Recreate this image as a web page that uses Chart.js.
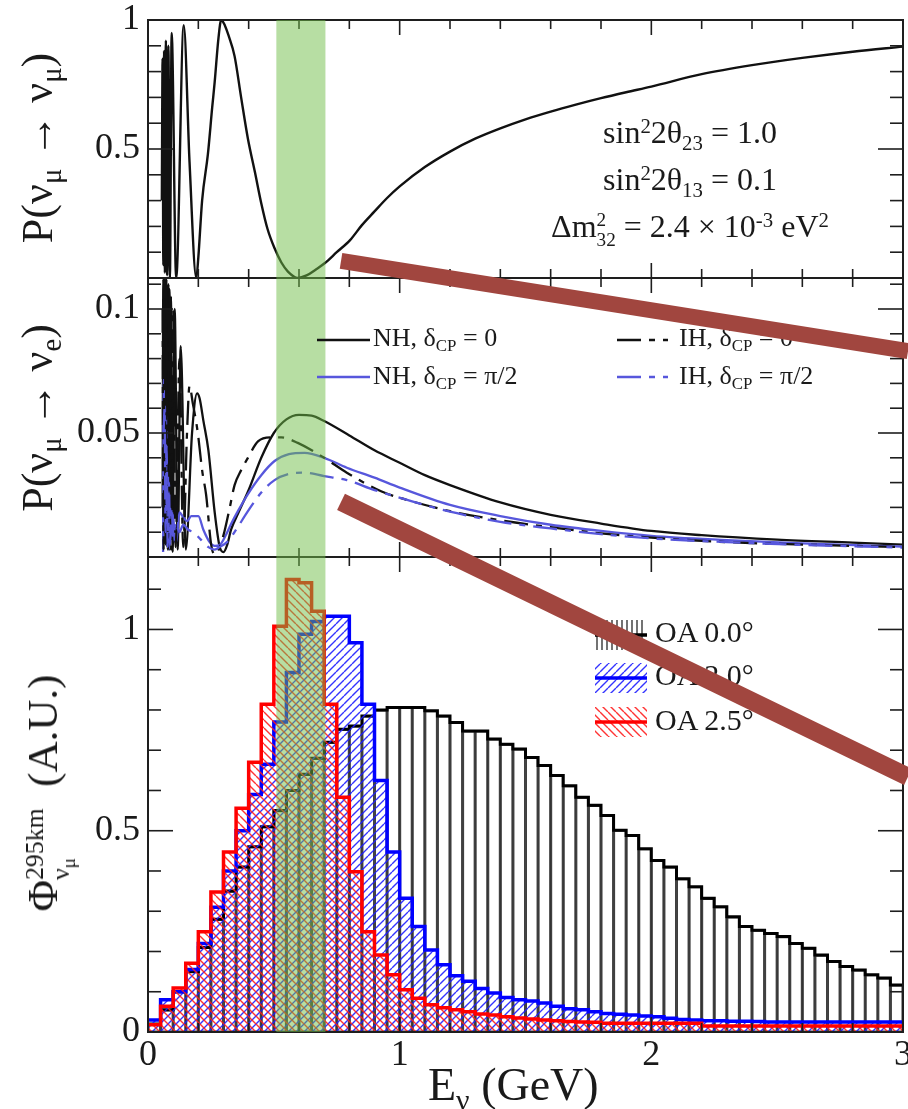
<!DOCTYPE html>
<html><head><meta charset="utf-8">
<script src="https://cdn.jsdelivr.net/npm/chart.js@4/dist/chart.umd.min.js"></script>
<style>
html,body{margin:0;padding:0;background:#fff}
#wrap{position:relative;width:908px;height:1109px;overflow:hidden;font-family:'Liberation Serif','Times New Roman',serif;color:#1a1a1a}
canvas{position:absolute;left:0;top:0}
#ov{z-index:5;pointer-events:none}
.t{position:absolute;white-space:nowrap;line-height:1;z-index:3}
.t sub,.t sup{font-size:65%;line-height:0;vertical-align:baseline;position:relative}
.t sub{top:0.32em}
.t sup{top:-0.5em}
.ss{display:inline-block;font-size:60%;line-height:1;vertical-align:-0.45em;text-align:left}
.ss sub{font-size:75%}
.rot{transform-origin:0 0;transform:rotate(-90deg) translateX(-50%)}
.ctr{transform:translateX(-50%)}
</style></head><body>
<div id="wrap">
<canvas id="c" width="908" height="1109"></canvas>
<canvas id="ov" width="908" height="1109"></canvas>

<div class="t ctr" style="left:690px;top:116px;font-size:32px">sin<sup>2</sup>2θ<sub>23</sub> = 1.0</div>
<div class="t ctr" style="left:690px;top:163px;font-size:32px">sin<sup>2</sup>2θ<sub>13</sub> = 0.1</div>
<div class="t ctr" style="left:690px;top:210px;font-size:32px">Δm<span class="ss">2<br>32</span> = 2.4 × 10<sup>-3</sup> eV<sup>2</sup></div>

<div class="t" style="left:373px;top:325px;font-size:26px">NH, δ<sub>CP</sub> = 0</div>
<div class="t" style="left:373px;top:363px;font-size:26px">NH, δ<sub>CP</sub> = π/2</div>
<div class="t" style="left:679px;top:325px;font-size:26px">IH, δ<sub>CP</sub> = 0</div>
<div class="t" style="left:679px;top:363px;font-size:26px">IH, δ<sub>CP</sub> = π/2</div>

<div class="t" style="left:655px;top:617px;font-size:30px">OA 0.0°</div>
<div class="t" style="left:655px;top:660px;font-size:30px">OA 2.0°</div>
<div class="t" style="left:655px;top:705px;font-size:30px">OA 2.5°</div>

<div class="t rot" style="left:16px;top:148px;font-size:44px">P(ν<sub>μ</sub> → ν<sub>μ</sub>)</div>
<div class="t rot" style="left:16px;top:418px;font-size:44px">P(ν<sub>μ</sub> → ν<sub>e</sub>)</div>
<div class="t rot" style="left:21px;top:793px;font-size:43px">Φ<span class="ss">295km<br>ν<sub>μ</sub></span>&nbsp;&nbsp;(A.U.)</div>
<div class="t" style="left:428px;top:1062px;font-size:46px">E<sub>ν</sub> (GeV)</div>
</div>

<script>
// ---------------- DATA ----------------
const energyEdges = [0,0.05,0.1,0.15,0.2,0.25,0.3,0.35,0.4,0.45,0.5,0.55,0.6,0.65,0.7,0.75,0.8,0.85,0.9,0.95,
  1,1.05,1.1,1.15,1.2,1.25,1.3,1.35,1.4,1.45,1.5,1.55,1.6,1.65,1.7,1.75,1.8,1.85,1.9,1.95,
  2,2.05,2.1,2.15,2.2,2.25,2.3,2.35,2.4,2.45,2.5,2.55,2.6,2.65,2.7,2.75,2.8,2.85,2.9,2.95,3];

const fluxOA00 = [0.02,0.055,0.10,0.15,0.21,0.28,0.35,0.41,0.46,0.51,0.55,0.60,0.64,0.68,0.72,0.752,0.76,0.785,0.80,0.806,
  0.806,0.806,0.798,0.785,0.769,0.748,0.748,0.728,0.715,0.703,0.682,0.662,0.637,0.612,0.583,0.563,0.538,0.501,0.488,0.455,
  0.426,0.41,0.381,0.361,0.332,0.311,0.286,0.262,0.253,0.245,0.237,0.22,0.208,0.191,0.175,0.163,0.154,0.142,0.134,0.117];
const fluxOA20 = [0.03,0.08,0.10,0.155,0.22,0.31,0.40,0.50,0.59,0.665,0.77,0.893,0.988,1.02,1.033,1.033,0.967,0.814,0.625,0.447,
  0.332,0.262,0.204,0.167,0.14,0.126,0.108,0.097,0.086,0.08,0.077,0.072,0.064,0.058,0.055,0.05,0.046,0.044,0.042,0.04,
  0.038,0.034,0.031,0.03,0.028,0.028,0.027,0.027,0.026,0.025,0.025,0.025,0.025,0.025,0.025,0.025,0.025,0.025,0.025,0.025];
const fluxOA25 = [0.018,0.064,0.109,0.171,0.249,0.348,0.447,0.556,0.67,0.814,1.008,1.124,1.116,1.045,0.814,0.583,0.398,0.249,0.191,0.142,
  0.105,0.084,0.068,0.06,0.055,0.05,0.045,0.042,0.038,0.035,0.032,0.03,0.028,0.026,0.025,0.024,0.022,0.022,0.022,0.022,
  0.022,0.022,0.022,0.022,0.015,0.015,0.015,0.015,0.015,0.015,0.015,0.015,0.015,0.015,0.015,0.015,0.015,0.015,0.015,0.015];

const numuE = [0.055,0.058,0.061,0.064,0.067,0.071,0.076,0.081,0.087,0.094,0.112,0.142,0.165,0.192,0.2,0.215,0.238,0.255,0.265,0.28,0.291,
  0.305,0.32,0.344,0.37,0.397,0.425,0.45,0.475,0.503,0.53,0.556,0.595,0.63,0.67,0.703,0.75,0.803,0.85,0.9,0.95,
  1.0,1.1,1.2,1.3,1.4,1.5,1.6,1.7,1.8,1.9,2.0,2.2,2.4,2.6,2.8,3.0];
const numuP = [0.3,0.85,0.05,0.88,0.02,0.92,0.01,0.9,0.0,0.95,0.0,0.98,0.45,0.0,0.08,0.3,0.48,0.66,0.76,0.93,1.0,
  0.98,0.94,0.86,0.7,0.54,0.41,0.29,0.19,0.115,0.06,0.025,0.0,0.01,0.035,0.058,0.1,0.147,0.205,0.258,0.31,
  0.355,0.43,0.49,0.54,0.58,0.615,0.645,0.672,0.697,0.72,0.742,0.79,0.825,0.853,0.877,0.897];

const nueNH0 = [[0.058,0.02],[0.061,0.112],[0.064,0.01],[0.067,0.112],[0.07,0.005],[0.073,0.112],[0.077,0.004],[0.081,0.11],
  [0.086,0.003],[0.091,0.105],[0.098,0.002],[0.106,0.1],[0.118,0.003],[0.13,0.085],[0.15,0.003],[0.175,0.05],[0.195,0.066],
  [0.205,0.064],[0.22,0.055],[0.24,0.043],[0.265,0.018],[0.285,0.004],[0.3,0.002],[0.315,0.005],[0.33,0.011],[0.36,0.018],
  [0.4,0.027],[0.45,0.04],[0.5,0.05],[0.55,0.0555],[0.6,0.0573],[0.65,0.057],[0.7,0.0548],[0.8,0.049],[0.9,0.043],[1.0,0.038],
  [1.1,0.033],[1.2,0.029],[1.4,0.022],[1.6,0.017],[1.8,0.0135],[2.0,0.0105],[2.2,0.0088],[2.5,0.007],[2.8,0.0058],[3.0,0.005]];
const nueIH0 = [[0.058,0.1],[0.062,0.003],[0.066,0.112],[0.07,0.004],[0.074,0.11],[0.079,0.003],[0.085,0.108],[0.092,0.003],
  [0.1,0.1],[0.11,0.004],[0.125,0.08],[0.14,0.004],[0.155,0.05],[0.165,0.069],[0.178,0.062],[0.198,0.05],[0.215,0.035],
  [0.231,0.025],[0.251,0.005],[0.265,0.001],[0.285,0.004],[0.304,0.0104],[0.325,0.02],[0.344,0.029],[0.37,0.035],[0.397,0.04],
  [0.437,0.0466],[0.49,0.0482],[0.53,0.0482],[0.595,0.046],[0.7,0.04],[0.79,0.034],[0.926,0.0265],[1.03,0.023],[1.2,0.0185],
  [1.4,0.0148],[1.6,0.012],[1.8,0.0095],[2.0,0.0078],[2.3,0.006],[2.6,0.005],[3.0,0.004]];
const nueNHpi2 = [[0.06,0.002],[0.063,0.072],[0.066,0.07],[0.069,0.03],[0.072,0.06],[0.075,0.005],[0.079,0.04],[0.083,0.003],
  [0.088,0.02],[0.093,0.013],[0.1,0.017],[0.106,0.006],[0.112,0.006],[0.125,0.018],[0.14,0.016],[0.155,0.0145],[0.172,0.0165],
  [0.2,0.0165],[0.22,0.011],[0.245,0.006],[0.265,0.0045],[0.284,0.0048],[0.31,0.009],[0.331,0.0135],[0.36,0.019],[0.397,0.0254],
  [0.45,0.033],[0.503,0.0387],[0.56,0.0415],[0.622,0.042],[0.7,0.04],[0.79,0.036],[0.9,0.032],[1.0,0.028],[1.2,0.021],
  [1.4,0.0165],[1.6,0.013],[1.8,0.0105],[2.0,0.0085],[2.3,0.0068],[2.6,0.0055],[3.0,0.0042]];
const nueIHpi2 = [[0.062,0.05],[0.066,0.06],[0.07,0.01],[0.074,0.045],[0.078,0.004],[0.083,0.03],[0.088,0.005],[0.094,0.02],
  [0.1,0.008],[0.11,0.014],[0.125,0.01],[0.14,0.013],[0.16,0.011],[0.18,0.01],[0.21,0.007],[0.24,0.004],[0.265,0.003],
  [0.284,0.004],[0.317,0.0063],[0.35,0.011],[0.397,0.0185],[0.45,0.026],[0.503,0.031],[0.56,0.0335],[0.622,0.034],[0.7,0.0326],
  [0.79,0.031],[0.9,0.027],[1.03,0.023],[1.2,0.0183],[1.4,0.0142],[1.6,0.0115],[1.8,0.0092],[2.0,0.0075],[2.3,0.006],
  [2.6,0.0049],[3.0,0.0038]];

const bandRange = [0.51, 0.705];          // highlighted energy window (GeV)
const xTickVals = [0,0.2,0.4,0.6,0.8,1,1.2,1.4,1.6,1.8,2,2.2,2.4,2.6,2.8,3];
const xMajorTicks = [0,1,2,3];
const xLabelled = [0,1,2,3];
const topTickVals = [0,0.1,0.2,0.3,0.4,0.5,0.6,0.7,0.8,0.9,1];
const topMajor = [0,0.5,1];
const topLabelled = [0.5,1];
const midTickVals = [0,0.01,0.02,0.03,0.04,0.05,0.06,0.07,0.08,0.09,0.1,0.11];
const midMajor = [0,0.05,0.1];
const midLabelled = [0.05,0.1];
const botTickVals = [0,0.1,0.2,0.3,0.4,0.5,0.6,0.7,0.8,0.9,1,1.1];
const botMajor = [0,0.5,1];
const botLabelled = [0,0.5,1];

// annotation strokes (data coordinates of the panel each end lies in)
const slashLines = [
  {x0:0.767, y0:0.066, a0:'yTop', x1:3.02, y1:0.083, a1:'yMid', w:16},
  {x0:0.767, y0:0.0222, a0:'yMid', x1:3.02, y1:0.634, a1:'yBot', w:18}
];

// ---------------- HELPERS ----------------
const mainCtx = document.getElementById('c').getContext('2d');
function makeHatch(color, rising, size, lw){
  const c=document.createElement('canvas'); c.width=size; c.height=size;
  const g=c.getContext('2d'); g.strokeStyle=color; g.lineWidth=lw; g.beginPath();
  for(let k=-1;k<=1;k++){
    if(rising){ g.moveTo(k*size,size); g.lineTo(k*size+size,0); }
    else { g.moveTo(k*size,0); g.lineTo(k*size+size,size); }
  }
  g.stroke();
  return mainCtx.createPattern(c,'repeat');
}
const blueHatch = makeHatch('rgba(30,30,255,0.9)', true, 8, 1.4);
const redHatch = makeHatch('rgba(255,30,30,0.9)', false, 8, 1.4);
const near = (arr,v)=>arr.some(a=>Math.abs(a-v)<1e-9);
const stepPts = vals => energyEdges.map((e,i)=>({x:e, y: vals[Math.min(i, vals.length-1)]}));
const barPts = vals => vals.map((v,i)=>({x:(energyEdges[i]+energyEdges[i+1])/2, y:v}));
const pairPts = arr => arr.map(p=>({x:p[0], y:p[1]}));
const FONT = "'Liberation Serif','Times New Roman',serif";
const BLUE = '#5757dc';
const DASH = [24,8,6,8];

const tickSets = {
  yTop:{vals:topTickVals, major:topMajor},
  yMid:{vals:midTickVals, major:midMajor},
  yBot:{vals:botTickVals, major:botMajor}
};

const panelPlugin = {
  id:'panels',
  afterDatasetsDraw(chart){
    const ctx=chart.ctx, xs=chart.scales.x, a=chart.chartArea;
    ctx.save();
    ctx.strokeStyle='#1e1e1e';
    const seg=(x0,y0,x1,y1)=>{ctx.beginPath();ctx.moveTo(x0,y0);ctx.lineTo(x1,y1);ctx.stroke();};
    for(const id of ['yTop','yMid','yBot']){
      const ys=chart.scales[id], top=ys.top, bot=ys.bottom;
      ctx.lineWidth=1.6;
      xTickVals.forEach(v=>{
        const px=xs.getPixelForValue(v), L=near(xMajorTicks,v)?15:9;
        seg(px,top,px,top+L); seg(px,bot,px,bot-L);
      });
      tickSets[id].vals.forEach(v=>{
        const py=ys.getPixelForValue(v), L=near(tickSets[id].major,v)?25:13;
        seg(a.left,py,a.left+L,py); seg(a.right,py,a.right-L,py);
      });
      ctx.lineWidth=2;
      ctx.strokeRect(a.left,top,a.right-a.left,bot-top);
    }
    // highlighted energy band
    const bx0=xs.getPixelForValue(bandRange[0]), bx1=xs.getPixelForValue(bandRange[1]);
    ctx.fillStyle='rgba(112,190,72,0.5)';
    ctx.fillRect(bx0,a.top,bx1-bx0,a.bottom-a.top);

    // legend symbols: oscillation panel
    ctx.lineWidth=2.5; ctx.setLineDash([]);
    ctx.strokeStyle='#111'; seg(317,340,370,340);
    ctx.strokeStyle=BLUE; seg(317,377,370,377);
    ctx.setLineDash(DASH);
    ctx.strokeStyle='#111'; seg(617,340,668,340);
    ctx.strokeStyle=BLUE; seg(617,377,668,377);
    ctx.setLineDash([]);
    // legend symbols: flux panel
    ctx.strokeStyle='rgba(0,0,0,0.85)'; ctx.lineWidth=1.3;
    for(let x=597;x<=645;x+=5) seg(x,620,x,650);
    ctx.lineWidth=3.5; ctx.strokeStyle='#000'; seg(595,635,647,635);
    ctx.fillStyle=blueHatch; ctx.fillRect(595,663,52,30);
    ctx.strokeStyle='#0000ff'; seg(595,678,647,678);
    ctx.fillStyle=redHatch; ctx.fillRect(595,707,52,30);
    ctx.strokeStyle='#ff0000'; seg(595,722,647,722);
    ctx.restore();
  }
};

const slashPlugin = {
  id:'slash',
  afterRender(chart){
    const o=document.getElementById('ov').getContext('2d');
    o.clearRect(0,0,908,1109);
    o.strokeStyle='#a1463f'; o.lineCap='butt';
    slashLines.forEach(l=>{
      o.lineWidth=l.w; o.beginPath();
      o.moveTo(chart.scales.x.getPixelForValue(l.x0), chart.scales[l.a0].getPixelForValue(l.y0));
      o.lineTo(chart.scales.x.getPixelForValue(l.x1), chart.scales[l.a1].getPixelForValue(l.y1));
      o.stroke();
    });
  }
};

const yCommon = (labelled, step)=>({
  type:'linear', position:'left', stack:'panels', offset:false,
  grid:{display:false, drawTicks:false}, border:{display:false},
  ticks:{stepSize:step, includeBounds:false, autoSkip:false, padding:8, color:'#1a1a1a', font:{family:FONT, size:36},
    callback:v=> near(labelled,v) ? String(+v.toFixed(3)) : ''},
  afterFit(s){ s.width=148; s.paddingTop=0; s.paddingBottom=0; }
});

new Chart(mainCtx, {
  type:'line',
  data:{datasets:[
    {label:'P(νμ→νμ)', data:numuE.map((e,i)=>({x:e,y:numuP[i]})), yAxisID:'yTop', borderColor:'#111', borderWidth:2.4, cubicInterpolationMode:'monotone', fill:false, order:10},
    {label:'NH, δCP = 0', data:pairPts(nueNH0), yAxisID:'yMid', borderColor:'#111', borderWidth:2.3, cubicInterpolationMode:'monotone', fill:false, order:9},
    {label:'NH, δCP = π/2', data:pairPts(nueNHpi2), yAxisID:'yMid', borderColor:BLUE, borderWidth:2.3, cubicInterpolationMode:'monotone', fill:false, order:8},
    {label:'IH, δCP = 0', data:pairPts(nueIH0), yAxisID:'yMid', borderColor:'#111', borderWidth:2.3, borderDash:DASH, cubicInterpolationMode:'monotone', fill:false, order:7},
    {label:'IH, δCP = π/2', data:pairPts(nueIHpi2), yAxisID:'yMid', borderColor:BLUE, borderWidth:2.3, borderDash:DASH, cubicInterpolationMode:'monotone', fill:false, order:6},
    {type:'bar', label:'OA 0.0° bins', data:barPts(fluxOA00), yAxisID:'yBot', backgroundColor:'rgba(0,0,0,0)', borderColor:'rgba(30,30,30,0.85)', borderWidth:1.2, borderSkipped:false, barPercentage:1, categoryPercentage:1, order:20},
    {label:'OA 0.0°', data:stepPts(fluxOA00), yAxisID:'yBot', stepped:true, borderColor:'#000', borderWidth:3, fill:false, order:4},
    {label:'OA 2.0°', data:stepPts(fluxOA20), yAxisID:'yBot', stepped:true, borderColor:'#0000ff', borderWidth:3.5, fill:'origin', backgroundColor:blueHatch, order:3},
    {label:'OA 2.5°', data:stepPts(fluxOA25), yAxisID:'yBot', stepped:true, borderColor:'#ff0000', borderWidth:3.5, fill:'origin', backgroundColor:redHatch, order:2}
  ]},
  options:{
    responsive:false, animation:false, devicePixelRatio:1,
    layout:{padding:{top:20,right:5,left:0,bottom:0}},
    plugins:{legend:{display:false}, tooltip:{enabled:false}},
    elements:{point:{radius:0}, line:{borderJoinStyle:'miter'}},
    scales:{
      x:{type:'linear', min:0, max:3, offset:false,
        grid:{display:false, drawTicks:false}, border:{display:false},
        ticks:{stepSize:1, autoSkip:false, maxRotation:0, padding:2, color:'#1a1a1a', font:{family:FONT,size:36},
          callback:v=> near(xLabelled,v) ? String(v) : ''},
        afterFit(s){ s.height=77; s.paddingLeft=0; s.paddingRight=0; }},
      yBot:Object.assign(yCommon(botLabelled, 0.5), {min:0, max:1.18, stackWeight:475, weight:1}),
      yMid:Object.assign(yCommon(midLabelled, 0.05), {min:0, max:0.1125, stackWeight:279, weight:2}),
      yTop:Object.assign(yCommon(topLabelled, 0.5), {min:0, max:1, stackWeight:258, weight:3})
    }
  },
  plugins:[panelPlugin, slashPlugin]
});
</script>
</body></html>
